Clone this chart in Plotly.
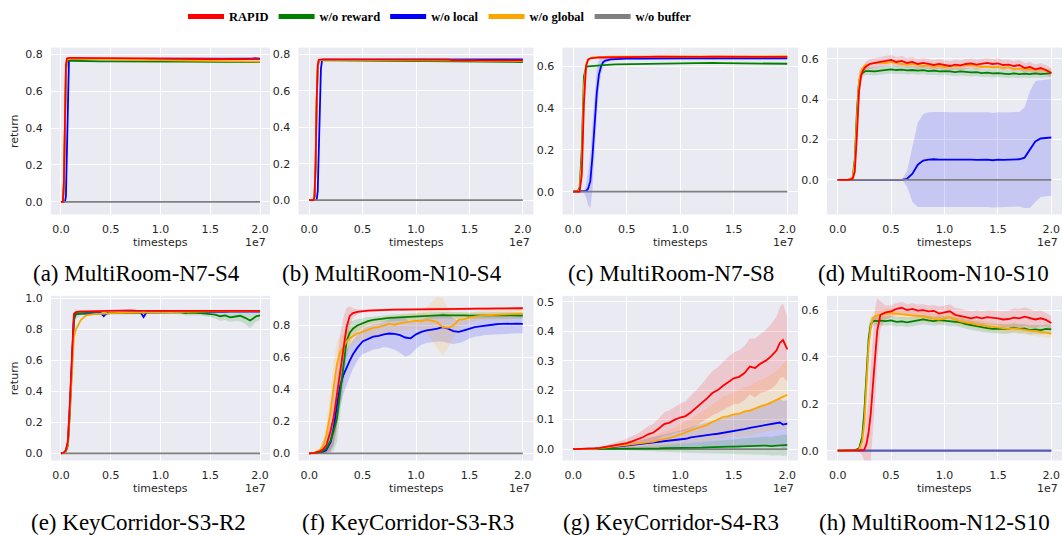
import plotly.graph_objects as go

W, H = 1063, 535

# ---------------- data (x in units of 1e6 timesteps) ----------------
ZERO_X = [0, 20]
ZERO_Y = [0.0, 0.0]

# (a) MultiRoom-N7-S4
X_A = [0, 0.2, 0.3, 0.4, 0.5, 0.6, 0.7, 0.8, 1, 1.5, 2, 3, 4, 5, 6, 7, 8, 9, 10, 11, 12, 13, 14, 15, 16, 17, 18, 19, 19.5, 20]
A_RAPID = [0, 0.0, 0.12, 0.48, 0.74, 0.778, 0.781, 0.781, 0.781, 0.781, 0.780, 0.780, 0.779, 0.779, 0.779, 0.778, 0.778, 0.778, 0.777, 0.777, 0.777, 0.776, 0.776, 0.776, 0.775, 0.775, 0.775, 0.774, 0.779, 0.775]
A_REWARD = [0, 0.0, 0.10, 0.42, 0.70, 0.765, 0.767, 0.766, 0.765, 0.764, 0.763, 0.762, 0.762, 0.762, 0.761, 0.761, 0.761, 0.760, 0.760, 0.760, 0.760, 0.760, 0.759, 0.759, 0.759, 0.759, 0.758, 0.758, 0.758, 0.758]
A_LOCAL = [0, 0, 0, 0.0, 0.03, 0.30, 0.65, 0.76, 0.772, 0.774, 0.775, 0.775, 0.775, 0.775, 0.775, 0.775, 0.775, 0.775, 0.775, 0.775, 0.775, 0.775, 0.776, 0.776, 0.776, 0.776, 0.776, 0.776, 0.775, 0.776]
A_GLOBAL = [0, 0.0, 0.11, 0.45, 0.72, 0.772, 0.776, 0.776, 0.776, 0.775, 0.775, 0.774, 0.774, 0.773, 0.772, 0.772, 0.771, 0.770, 0.770, 0.769, 0.768, 0.768, 0.767, 0.766, 0.766, 0.765, 0.764, 0.763, 0.762, 0.760]

# (b) MultiRoom-N10-S4
X_B = [0, 0.4, 0.5, 0.6, 0.7, 0.8, 0.9, 1.0, 1.1, 1.2, 1.3, 1.5, 2, 3, 4, 5, 6, 7, 8, 9, 10, 11, 12, 13, 13.5, 14, 15, 16, 17, 18, 19, 20]
B_RAPID = [0, 0, 0.02, 0.2, 0.55, 0.74, 0.77, 0.772, 0.772, 0.772, 0.772, 0.772, 0.772, 0.772, 0.771, 0.771, 0.771, 0.771, 0.771, 0.770, 0.770, 0.770, 0.770, 0.770, 0.767, 0.767, 0.767, 0.767, 0.767, 0.767, 0.766, 0.766]
B_REWARD = [0, 0, 0.02, 0.18, 0.52, 0.72, 0.765, 0.768, 0.768, 0.768, 0.767, 0.767, 0.766, 0.765, 0.765, 0.764, 0.764, 0.763, 0.763, 0.763, 0.762, 0.762, 0.762, 0.761, 0.761, 0.760, 0.760, 0.760, 0.759, 0.758, 0.758, 0.757]
B_LOCAL = [0, 0, 0, 0, 0.0, 0.05, 0.25, 0.55, 0.72, 0.765, 0.77, 0.771, 0.771, 0.771, 0.771, 0.771, 0.771, 0.771, 0.771, 0.771, 0.771, 0.771, 0.771, 0.771, 0.772, 0.773, 0.773, 0.773, 0.773, 0.772, 0.772, 0.772]
B_GLOBAL = [0, 0, 0.02, 0.19, 0.54, 0.73, 0.766, 0.769, 0.769, 0.769, 0.769, 0.768, 0.768, 0.768, 0.767, 0.767, 0.767, 0.766, 0.766, 0.766, 0.766, 0.766, 0.765, 0.765, 0.765, 0.765, 0.765, 0.764, 0.764, 0.764, 0.763, 0.763]

# (c) MultiRoom-N7-S8
X_C = [0, 0.4, 0.6, 0.8, 1.0, 1.2, 1.4, 1.6, 1.8, 2.0, 2.2, 2.4, 2.6, 2.8, 3.0, 3.5, 4, 5, 6, 7, 8, 9, 10, 11, 12, 13, 14, 15, 16, 17, 18, 19, 20]
C_RAPID = [0, 0, 0.0, 0.08, 0.42, 0.60, 0.632, 0.638, 0.640, 0.641, 0.641, 0.642, 0.642, 0.643, 0.643, 0.643, 0.644, 0.644, 0.645, 0.645, 0.646, 0.645, 0.646, 0.646, 0.645, 0.646, 0.645, 0.645, 0.646, 0.645, 0.645, 0.646, 0.645]
C_REWARD = [0, 0, 0.02, 0.20, 0.55, 0.597, 0.600, 0.601, 0.602, 0.603, 0.604, 0.605, 0.606, 0.606, 0.607, 0.608, 0.609, 0.610, 0.611, 0.612, 0.613, 0.614, 0.615, 0.616, 0.616, 0.616, 0.615, 0.615, 0.614, 0.614, 0.613, 0.613, 0.612]
C_LOCAL = [0, 0, 0, 0, 0.0, 0.003, 0.015, 0.05, 0.17, 0.31, 0.47, 0.56, 0.60, 0.62, 0.627, 0.633, 0.635, 0.637, 0.637, 0.638, 0.638, 0.638, 0.638, 0.638, 0.639, 0.638, 0.638, 0.638, 0.638, 0.637, 0.637, 0.638, 0.638]
C_GLOBAL = [0, 0, 0.01, 0.14, 0.50, 0.61, 0.634, 0.640, 0.642, 0.643, 0.644, 0.644, 0.645, 0.645, 0.645, 0.646, 0.646, 0.647, 0.647, 0.647, 0.647, 0.648, 0.648, 0.648, 0.648, 0.648, 0.648, 0.649, 0.648, 0.648, 0.648, 0.649, 0.648]
C_LOCAL_SD = [0, 0, 0, 0, 0.005, 0.03, 0.08, 0.13, 0.16, 0.15, 0.12, 0.07, 0.04, 0.02, 0.012, 0.008, 0.006, 0.005, 0.005, 0.005, 0.005, 0.005, 0.005, 0.005, 0.005, 0.005, 0.005, 0.005, 0.005, 0.005, 0.005, 0.005, 0.005]

# (d) MultiRoom-N10-S10
X_D = [0, 1.0, 1.4, 1.6, 1.8, 2.0, 2.2, 2.4, 2.6, 3.0, 3.5, 4, 4.5, 5, 5.5, 6, 6.5, 7, 7.5, 8, 8.5, 9, 9.5, 10, 10.5, 11, 11.5, 12, 12.5, 13, 13.5, 14, 14.5, 15, 15.5, 16, 16.5, 17, 17.5, 18, 18.5, 19, 19.5, 20]
D_RAPID = [0, 0, 0.005, 0.04, 0.22, 0.44, 0.52, 0.545, 0.56, 0.575,
           0.58, 0.585, 0.59, 0.595, 0.585, 0.59, 0.58, 0.585, 0.575, 0.58, 0.575, 0.57, 0.575, 0.57, 0.565, 0.572, 0.568,
           0.575, 0.578, 0.572, 0.575, 0.58, 0.575, 0.578, 0.57, 0.572, 0.565, 0.57, 0.555, 0.56, 0.548, 0.555, 0.545, 0.53]
D_REWARD = [0, 0, 0.01, 0.10, 0.34, 0.49, 0.525, 0.535, 0.54, 0.54,
            0.538, 0.542, 0.545, 0.548, 0.545, 0.547, 0.543, 0.545, 0.542, 0.544, 0.54, 0.542, 0.538, 0.54, 0.538, 0.535, 0.538,
            0.535, 0.533, 0.535, 0.53, 0.532, 0.528, 0.53, 0.528, 0.525, 0.528, 0.525, 0.527, 0.525, 0.528, 0.525, 0.527, 0.53]
D_LOCAL = [0, 0, 0, 0, 0, 0, 0, 0, 0, 0,
           0, 0, 0, 0, 0, 0, 0.005, 0.03, 0.075, 0.095, 0.1, 0.102, 0.1, 0.101, 0.1, 0.1, 0.1,
           0.101, 0.1, 0.099, 0.1, 0.1, 0.097, 0.1, 0.099, 0.1, 0.101, 0.102, 0.11, 0.15, 0.19, 0.205, 0.208, 0.21]
D_GLOBAL = [0, 0, 0.01, 0.08, 0.30, 0.49, 0.54, 0.56, 0.57, 0.575,
            0.58, 0.582, 0.58, 0.585, 0.578, 0.575, 0.572, 0.575, 0.57, 0.565, 0.568, 0.562, 0.565, 0.56, 0.565, 0.562, 0.566,
            0.568, 0.57, 0.565, 0.56, 0.562, 0.558, 0.56, 0.555, 0.558, 0.55, 0.552, 0.548, 0.55, 0.545, 0.548, 0.54, 0.535]
D_LOCAL_SD = [0, 0, 0, 0, 0, 0, 0, 0, 0, 0,
              0, 0, 0, 0, 0, 0, 0.04, 0.14, 0.21, 0.23, 0.235, 0.235, 0.235, 0.235, 0.235, 0.235, 0.235,
              0.235, 0.235, 0.235, 0.235, 0.235, 0.235, 0.235, 0.235, 0.235, 0.235, 0.235, 0.25, 0.29, 0.3, 0.29, 0.29, 0.29]
D_RAPID_SD = [0, 0, 0.005, 0.03, 0.08, 0.06, 0.03, 0.025, 0.025, 0.025,
              0.025, 0.025, 0.025, 0.025, 0.025, 0.025, 0.025, 0.025, 0.025, 0.025, 0.025, 0.025, 0.025, 0.025, 0.025, 0.025, 0.025,
              0.025, 0.025, 0.025, 0.025, 0.025, 0.025, 0.025, 0.025, 0.025, 0.025, 0.025, 0.025, 0.025, 0.025, 0.025, 0.025, 0.025]
D_REWARD_SD = [0, 0, 0.005, 0.03, 0.07, 0.05, 0.03, 0.02, 0.02, 0.02,
               0.02, 0.02, 0.02, 0.02, 0.02, 0.02, 0.02, 0.02, 0.02, 0.02, 0.02, 0.02, 0.02, 0.02, 0.02, 0.02, 0.02,
               0.02, 0.02, 0.02, 0.02, 0.02, 0.02, 0.02, 0.02, 0.02, 0.02, 0.02, 0.02, 0.02, 0.02, 0.02, 0.02, 0.02]

# (e) KeyCorridor-S3-R2
X_E = [0, 0.3, 0.5, 0.7, 0.9, 1.0, 1.1, 1.2, 1.3, 1.5, 1.8, 2.0, 2.5, 3, 3.5, 4, 4.3, 4.5, 4.7, 5, 6, 7, 7.5, 8, 8.3, 8.6, 9, 10, 11, 12, 12.5, 13, 14, 15, 15.5, 16, 16.5, 17, 17.5, 18, 18.5, 19, 19.3, 19.6, 20]
E_RAPID = [0, 0.005, 0.02, 0.08, 0.33, 0.50, 0.66, 0.82, 0.90, 0.912, 0.915, 0.916, 0.917, 0.918, 0.918,
           0.919, 0.919, 0.919, 0.919, 0.92, 0.921, 0.923, 0.921, 0.92, 0.92, 0.92, 0.92, 0.92, 0.92, 0.92,
           0.92, 0.921, 0.92, 0.921, 0.92, 0.921, 0.92, 0.921, 0.92, 0.921, 0.92, 0.92, 0.921, 0.92, 0.92]
E_REWARD = [0, 0.003, 0.012, 0.05, 0.26, 0.42, 0.58, 0.75, 0.86, 0.90, 0.902, 0.904, 0.90, 0.90, 0.902,
            0.903, 0.90, 0.902, 0.903, 0.905, 0.907, 0.91, 0.91, 0.91, 0.91, 0.91, 0.91, 0.91, 0.912, 0.91,
            0.905, 0.908, 0.905, 0.90, 0.895, 0.885, 0.89, 0.878, 0.885, 0.888, 0.875, 0.858, 0.87, 0.885, 0.89]
E_LOCAL = [0, 0.004, 0.018, 0.07, 0.31, 0.48, 0.64, 0.80, 0.88, 0.90, 0.902, 0.903, 0.905, 0.905, 0.905,
           0.905, 0.885, 0.90, 0.905, 0.907, 0.908, 0.91, 0.91, 0.91, 0.88, 0.91, 0.91, 0.91, 0.91, 0.91,
           0.91, 0.91, 0.91, 0.912, 0.913, 0.914, 0.914, 0.915, 0.915, 0.915, 0.915, 0.915, 0.915, 0.915, 0.915]
E_GLOBAL = [0, 0.003, 0.015, 0.06, 0.28, 0.42, 0.55, 0.66, 0.75, 0.80, 0.84, 0.86, 0.89, 0.895, 0.90,
            0.90, 0.90, 0.902, 0.903, 0.905, 0.907, 0.908, 0.91, 0.91, 0.91, 0.91, 0.91, 0.912, 0.912, 0.912,
            0.913, 0.914, 0.915, 0.915, 0.916, 0.917, 0.918, 0.918, 0.918, 0.919, 0.92, 0.92, 0.92, 0.92, 0.92]
E_REWARD_SD = [0, 0, 0.005, 0.02, 0.06, 0.07, 0.07, 0.06, 0.05, 0.03, 0.02, 0.015, 0.01, 0.01, 0.01,
               0.01, 0.01, 0.01, 0.01, 0.01, 0.01, 0.01, 0.01, 0.01, 0.01, 0.01, 0.01, 0.01, 0.01, 0.012,
               0.015, 0.015, 0.015, 0.02, 0.025, 0.03, 0.03, 0.03, 0.03, 0.035, 0.04, 0.05, 0.04, 0.035, 0.03]

# (f) KeyCorridor-S3-R3
X_F = [0, 0.5, 1.0, 1.3, 1.6, 2.0, 2.3, 2.6, 2.9, 3.2, 3.5, 3.8, 4.1, 4.5,
       5, 5.5, 6, 6.5, 7, 7.5, 8, 8.5, 9, 9.5, 10, 10.5, 11, 11.5, 12, 12.5, 13, 13.5, 14, 14.5, 15, 15.5, 16, 16.5, 17, 17.5, 18, 18.5, 19, 19.5, 20]
F_RAPID = [0, 0.003, 0.012, 0.025, 0.05, 0.14, 0.23, 0.37, 0.52, 0.67, 0.79, 0.86, 0.878, 0.885,
           0.89, 0.893, 0.895, 0.897, 0.898, 0.899, 0.9, 0.9, 0.901, 0.901, 0.902, 0.902, 0.902, 0.903, 0.903, 0.903,
           0.904, 0.904, 0.904, 0.905, 0.905, 0.905, 0.906, 0.906, 0.906, 0.907, 0.907, 0.907, 0.908, 0.908, 0.908]
F_REWARD = [0, 0.002, 0.008, 0.015, 0.03, 0.08, 0.14, 0.22, 0.38, 0.56, 0.70, 0.755, 0.78, 0.80,
            0.815, 0.828, 0.835, 0.84, 0.845, 0.848, 0.85, 0.852, 0.853, 0.855, 0.857, 0.858, 0.86, 0.862, 0.864, 0.865,
            0.864, 0.865, 0.864, 0.863, 0.862, 0.863, 0.864, 0.865, 0.866, 0.866, 0.866, 0.865, 0.864, 0.862, 0.862]
F_LOCAL = [0, 0.002, 0.006, 0.01, 0.02, 0.07, 0.16, 0.30, 0.42, 0.49, 0.54, 0.58, 0.62, 0.66,
           0.70, 0.715, 0.73, 0.735, 0.745, 0.75, 0.748, 0.74, 0.725, 0.72, 0.745, 0.76, 0.77, 0.775, 0.78, 0.79,
           0.78, 0.765, 0.76, 0.77, 0.78, 0.79, 0.795, 0.80, 0.805, 0.808, 0.81, 0.812, 0.81, 0.812, 0.81]
F_GLOBAL = [0, 0.005, 0.02, 0.05, 0.11, 0.26, 0.42, 0.56, 0.63, 0.67, 0.70, 0.72, 0.735, 0.75,
            0.76, 0.775, 0.785, 0.79, 0.80, 0.81, 0.805, 0.815, 0.82, 0.825, 0.83, 0.828, 0.835, 0.83, 0.82, 0.79,
            0.785, 0.80, 0.835, 0.84, 0.85, 0.855, 0.862, 0.865, 0.866, 0.868, 0.87, 0.87, 0.872, 0.874, 0.875]
F_RAPID_SD = [0, 0.003, 0.01, 0.02, 0.05, 0.12, 0.18, 0.22, 0.22, 0.18, 0.12, 0.06, 0.03, 0.015,
              0.008, 0.008, 0.008, 0.008, 0.008, 0.008, 0.008, 0.008, 0.008, 0.008, 0.008, 0.008, 0.008, 0.008, 0.008, 0.008,
              0.008, 0.008, 0.008, 0.008, 0.008, 0.008, 0.008, 0.008, 0.008, 0.008, 0.008, 0.008, 0.008, 0.008, 0.008]
F_REWARD_SD = [0, 0.002, 0.008, 0.015, 0.03, 0.08, 0.12, 0.15, 0.17, 0.15, 0.11, 0.07, 0.05, 0.04,
               0.03, 0.025, 0.02, 0.02, 0.02, 0.02, 0.02, 0.02, 0.02, 0.02, 0.02, 0.02, 0.02, 0.02, 0.02, 0.02,
               0.02, 0.02, 0.02, 0.02, 0.02, 0.02, 0.02, 0.02, 0.02, 0.02, 0.02, 0.02, 0.02, 0.02, 0.02]
F_LOCAL_SD = [0, 0.002, 0.006, 0.01, 0.02, 0.06, 0.10, 0.12, 0.12, 0.12, 0.11, 0.10, 0.09, 0.08,
              0.08, 0.08, 0.08, 0.08, 0.08, 0.09, 0.10, 0.11, 0.12, 0.10, 0.09, 0.08, 0.08, 0.08, 0.08, 0.09,
              0.09, 0.08, 0.07, 0.07, 0.06, 0.06, 0.06, 0.06, 0.06, 0.06, 0.06, 0.06, 0.06, 0.06, 0.06]
F_GLOBAL_SD = [0, 0.004, 0.015, 0.04, 0.08, 0.12, 0.15, 0.14, 0.10, 0.08, 0.07, 0.06, 0.06, 0.05,
               0.05, 0.05, 0.05, 0.05, 0.05, 0.05, 0.05, 0.05, 0.05, 0.05, 0.05, 0.06, 0.08, 0.12, 0.16, 0.18,
               0.12, 0.08, 0.05, 0.04, 0.03, 0.03, 0.03, 0.03, 0.03, 0.03, 0.03, 0.03, 0.03, 0.03, 0.03]

# (g) KeyCorridor-S4-R3
X_G = [0, 1, 2, 2.5, 3, 3.5, 4, 4.5, 5, 5.5, 6, 6.5, 7, 7.5, 8, 8.5, 9, 9.5, 10, 10.5, 11, 11.5, 12, 12.5, 13, 13.5, 14, 14.5, 15, 15.5, 16, 16.5, 17, 17.5, 18, 18.5, 19, 19.3, 19.6, 20]
G_RAPID = [0, 0, 0.002, 0.004, 0.007, 0.01, 0.013, 0.017, 0.02, 0.026, 0.032, 0.04, 0.05, 0.056, 0.07, 0.085, 0.09, 0.1, 0.107, 0.112,
           0.125, 0.14, 0.155, 0.172, 0.19, 0.2, 0.215, 0.228, 0.24, 0.245, 0.258, 0.28, 0.275, 0.29, 0.3, 0.315, 0.335, 0.36, 0.37, 0.338]
G_REWARD = [0, 0, 0, 0, 0, 0, 0, 0.001, 0.001, 0.001, 0.001, 0.002, 0.002, 0.002, 0.002, 0.003, 0.003, 0.003, 0.004, 0.004,
            0.004, 0.005, 0.005, 0.006, 0.007, 0.006, 0.007, 0.008, 0.008, 0.009, 0.01, 0.009, 0.01, 0.011, 0.012, 0.01, 0.012, 0.013, 0.012, 0.014]
G_LOCAL = [0, 0, 0.001, 0.002, 0.004, 0.006, 0.008, 0.01, 0.012, 0.014, 0.016, 0.018, 0.02, 0.022, 0.024, 0.027, 0.028, 0.03, 0.032, 0.035,
           0.04, 0.043, 0.045, 0.047, 0.05, 0.052, 0.055, 0.057, 0.06, 0.063, 0.068, 0.072, 0.075, 0.08, 0.083, 0.085, 0.088, 0.09, 0.083, 0.086]
G_GLOBAL = [0, 0, 0.001, 0.003, 0.005, 0.007, 0.009, 0.011, 0.013, 0.015, 0.017, 0.019, 0.021, 0.025, 0.03, 0.033, 0.038, 0.043, 0.05, 0.056,
            0.062, 0.07, 0.075, 0.082, 0.092, 0.1, 0.108, 0.112, 0.118, 0.12, 0.128, 0.13, 0.138, 0.145, 0.15, 0.158, 0.165, 0.172, 0.178, 0.184]
G_RAPID_SD = [0, 0, 0.002, 0.003, 0.005, 0.007, 0.01, 0.012, 0.015, 0.018, 0.02, 0.024, 0.028, 0.03, 0.035, 0.04, 0.042, 0.045, 0.048, 0.05,
              0.055, 0.06, 0.065, 0.07, 0.075, 0.078, 0.082, 0.085, 0.088, 0.09, 0.092, 0.095, 0.1, 0.1, 0.105, 0.11, 0.115, 0.12, 0.125, 0.11]
G_REWARD_SD = [0, 0, 0, 0, 0.001, 0.002, 0.003, 0.004, 0.005, 0.006, 0.007, 0.008, 0.009, 0.01, 0.011, 0.012, 0.013, 0.014, 0.015, 0.016,
               0.017, 0.018, 0.019, 0.02, 0.021, 0.022, 0.023, 0.024, 0.025, 0.026, 0.027, 0.028, 0.029, 0.03, 0.031, 0.032, 0.033, 0.034, 0.035, 0.036]
G_LOCAL_SD = [0, 0, 0.001, 0.002, 0.003, 0.004, 0.005, 0.006, 0.008, 0.01, 0.012, 0.014, 0.016, 0.018, 0.02, 0.022, 0.025, 0.028, 0.03, 0.032,
              0.035, 0.038, 0.04, 0.042, 0.045, 0.048, 0.05, 0.052, 0.055, 0.058, 0.06, 0.063, 0.066, 0.07, 0.072, 0.075, 0.078, 0.08, 0.08, 0.08]
G_GLOBAL_SD = [0, 0, 0.001, 0.002, 0.003, 0.005, 0.006, 0.008, 0.01, 0.012, 0.014, 0.016, 0.018, 0.02, 0.022, 0.025, 0.028, 0.03, 0.033, 0.036,
               0.04, 0.045, 0.05, 0.055, 0.06, 0.065, 0.07, 0.072, 0.075, 0.08, 0.082, 0.085, 0.088, 0.09, 0.092, 0.095, 0.1, 0.105, 0.11, 0.12]

# (h) MultiRoom-N12-S10
X_H = [0, 1.5, 2.0, 2.3, 2.5, 2.7, 2.9, 3.1, 3.3, 3.5, 3.7, 4.0,
       4.5, 5, 5.5, 6, 6.5, 7, 7.5, 8, 8.5, 9, 9.5, 10, 10.5, 11, 11.5, 12, 12.5, 13, 13.5, 14, 14.5, 15, 15.5, 16, 16.5, 17, 17.5, 18, 18.5, 19, 19.5, 20]
H_RAPID = [0, 0, 0, 0.002, 0.005, 0.03, 0.08, 0.16, 0.28, 0.41, 0.51, 0.58,
           0.59, 0.595, 0.605, 0.61, 0.6, 0.605, 0.598, 0.6, 0.595, 0.597, 0.585, 0.59, 0.595, 0.58, 0.575, 0.57,
           0.565, 0.57, 0.565, 0.57, 0.568, 0.565, 0.56, 0.562, 0.568, 0.565, 0.572, 0.565, 0.56, 0.565, 0.558, 0.545]
H_REWARD = [0, 0, 0.01, 0.06, 0.17, 0.33, 0.48, 0.54, 0.552, 0.555, 0.553, 0.555,
            0.553, 0.556, 0.55, 0.552, 0.548, 0.552, 0.555, 0.56, 0.556, 0.553, 0.557, 0.555, 0.552, 0.553, 0.548, 0.54,
            0.535, 0.53, 0.527, 0.523, 0.52, 0.52, 0.518, 0.52, 0.525, 0.52, 0.522, 0.515, 0.518, 0.515, 0.52, 0.518]
H_GLOBAL = [0, 0, 0.005, 0.04, 0.12, 0.28, 0.45, 0.53, 0.565, 0.575, 0.578, 0.58,
            0.585, 0.587, 0.585, 0.583, 0.58, 0.578, 0.575, 0.572, 0.568, 0.565, 0.56, 0.565, 0.57, 0.56, 0.552, 0.548,
            0.545, 0.538, 0.535, 0.53, 0.528, 0.525, 0.522, 0.52, 0.522, 0.518, 0.515, 0.512, 0.51, 0.506, 0.503, 0.5]
H_RAPID_SD = [0, 0, 0.005, 0.02, 0.05, 0.10, 0.15, 0.20, 0.22, 0.20, 0.14, 0.06,
              0.03, 0.025, 0.025, 0.025, 0.025, 0.025, 0.025, 0.025, 0.025, 0.025, 0.03, 0.03, 0.03, 0.03, 0.03, 0.03,
              0.03, 0.03, 0.03, 0.03, 0.03, 0.03, 0.035, 0.035, 0.04, 0.04, 0.04, 0.04, 0.035, 0.035, 0.03, 0.03]
H_REWARD_SD = [0, 0, 0.005, 0.03, 0.06, 0.07, 0.05, 0.03, 0.02, 0.02, 0.02, 0.02,
               0.02, 0.02, 0.02, 0.02, 0.02, 0.02, 0.02, 0.02, 0.02, 0.02, 0.02, 0.02, 0.02, 0.02, 0.02, 0.02,
               0.02, 0.02, 0.02, 0.02, 0.02, 0.02, 0.02, 0.02, 0.02, 0.02, 0.02, 0.02, 0.02, 0.02, 0.02, 0.02]
H_GLOBAL_SD = [0, 0, 0.005, 0.03, 0.06, 0.07, 0.05, 0.03, 0.02, 0.02, 0.02, 0.02,
               0.02, 0.02, 0.02, 0.02, 0.02, 0.02, 0.02, 0.02, 0.02, 0.02, 0.02, 0.02, 0.02, 0.02, 0.02, 0.02,
               0.02, 0.02, 0.02, 0.02, 0.02, 0.02, 0.02, 0.02, 0.02, 0.02, 0.02, 0.02, 0.02, 0.02, 0.02, 0.02]

X_TICKS = [0, 5, 10, 15, 20]
X_TICKTEXT = ["0.0", "0.5", "1.0", "1.5", "2.0"]
NAMES = ["RAPID", "w/o reward", "w/o local", "w/o global", "w/o buffer"]

# ---------------- styling ----------------
COLORS = {"RAPID": (255, 0, 0), "w/o reward": (0, 128, 0), "w/o local": (0, 0, 255),
          "w/o global": (255, 165, 0), "w/o buffer": (128, 128, 128)}

def rgb(name, a=1.0):
    r, g, b = COLORS[name]
    return f"rgba({r},{g},{b},{a})"

def S(name, x, y, sd=None, op=1.0):
    return dict(name=name, x=x, y=y, sd=sd, op=op)

PANELS = [
    dict(cap="(a) MultiRoom-N7-S4", capx=136, box=(51, 270, 44, 212), yr=(-0.068, 0.836), yt=[0, 0.2, 0.4, 0.6, 0.8], ylab=True,
         series=[S("w/o local", X_A, A_LOCAL), S("w/o buffer", ZERO_X, ZERO_Y), S("w/o reward", X_A, A_REWARD),
                 S("w/o global", X_A, A_GLOBAL), S("RAPID", X_A, A_RAPID)]),
    dict(cap="(b) MultiRoom-N10-S4", capx=392, box=(298.5, 533.5, 44, 212), yr=(-0.078, 0.836), yt=[0, 0.2, 0.4, 0.6, 0.8], ylab=False,
         series=[S("w/o local", X_B, B_LOCAL), S("w/o buffer", ZERO_X, ZERO_Y), S("w/o reward", X_B, B_REWARD),
                 S("w/o global", X_B, B_GLOBAL), S("RAPID", X_B, B_RAPID)]),
    dict(cap="(c) MultiRoom-N7-S8", capx=671, box=(562.5, 798, 44, 212), yr=(-0.109, 0.689), yt=[0, 0.2, 0.4, 0.6], ylab=False,
         series=[S("w/o local", X_C, C_LOCAL, C_LOCAL_SD), S("w/o buffer", ZERO_X, ZERO_Y), S("w/o reward", X_C, C_REWARD),
                 S("w/o global", X_C, C_GLOBAL), S("RAPID", X_C, C_RAPID)]),
    dict(cap="(d) MultiRoom-N10-S10", capx=933, box=(827, 1062, 44, 212), yr=(-0.172, 0.656), yt=[0, 0.2, 0.4, 0.6], ylab=False,
         series=[S("w/o local", X_D, D_LOCAL, D_LOCAL_SD), S("w/o buffer", ZERO_X, ZERO_Y), S("w/o reward", X_D, D_REWARD, D_REWARD_SD),
                 S("w/o global", X_D, D_GLOBAL), S("RAPID", X_D, D_RAPID, D_RAPID_SD)]),
    dict(cap="(e) KeyCorridor-S3-R2", capx=138, box=(51, 270, 294, 460), yr=(-0.047, 1.017), yt=[0, 0.2, 0.4, 0.6, 0.8, 1.0], ylab=True,
         series=[S("w/o local", X_E, E_LOCAL), S("w/o buffer", ZERO_X, ZERO_Y), S("w/o reward", X_E, E_REWARD, E_REWARD_SD),
                 S("w/o global", X_E, E_GLOBAL), S("RAPID", X_E, E_RAPID)]),
    dict(cap="(f) KeyCorridor-S3-R3", capx=408, box=(298.5, 533.5, 294, 460), yr=(-0.045, 0.986), yt=[0, 0.2, 0.4, 0.6, 0.8], ylab=False,
         series=[S("w/o local", X_F, F_LOCAL, F_LOCAL_SD), S("w/o buffer", ZERO_X, ZERO_Y), S("w/o reward", X_F, F_REWARD, F_REWARD_SD),
                 S("w/o global", X_F, F_GLOBAL, F_GLOBAL_SD), S("RAPID", X_F, F_RAPID, F_RAPID_SD)]),
    dict(cap="(g) KeyCorridor-S4-R3", capx=671, box=(562.5, 798, 294, 460), yr=(-0.039, 0.520), yt=[0, 0.1, 0.2, 0.3, 0.4, 0.5], ylab=False,
         series=[S("w/o local", X_G, G_LOCAL, G_LOCAL_SD), S("w/o buffer", ZERO_X, ZERO_Y), S("w/o reward", X_G, G_REWARD, G_REWARD_SD),
                 S("w/o global", X_G, G_GLOBAL, G_GLOBAL_SD), S("RAPID", X_G, G_RAPID, G_RAPID_SD)]),
    dict(cap="(h) MultiRoom-N12-S10", capx=934, box=(827, 1062, 294, 460), yr=(-0.042, 0.661), yt=[0, 0.2, 0.4, 0.6], ylab=False,
         series=[S("w/o local", ZERO_X, ZERO_Y), S("w/o buffer", ZERO_X, ZERO_Y, op=0.7), S("w/o reward", X_H, H_REWARD, H_REWARD_SD),
                 S("w/o global", X_H, H_GLOBAL, H_GLOBAL_SD), S("RAPID", X_H, H_RAPID, H_RAPID_SD)]),
]

for p in PANELS:
    for s in p["series"]:
        assert len(s["x"]) == len(s["y"]), (p["cap"], s["name"], len(s["x"]), len(s["y"]))
        if s["sd"] is not None:
            assert len(s["sd"]) == len(s["y"]), (p["cap"], s["name"], "sd")

TICKFONT = dict(family="DejaVu Sans", size=11, color="#262626")
LABELFONT = dict(family="DejaVu Sans", size=11, color="#262626")
CAPFONT = dict(family="Liberation Serif", size=23, color="black")

fig = go.Figure()
annotations = []

for i, p in enumerate(PANELS):
    k = "" if i == 0 else str(i + 1)
    xa, ya = "x" + k, "y" + k
    x0, x1, y0, y1 = p["box"]
    fig.update_layout(**{
        f"xaxis{k}": dict(domain=[x0 / W, x1 / W], anchor=ya, range=[-1, 21], tickvals=X_TICKS, ticktext=X_TICKTEXT,
                          showgrid=True, gridcolor="white", gridwidth=1.2, zeroline=False, showline=False,
                          ticks="outside", ticklen=4, tickcolor="rgba(0,0,0,0)", tickfont=TICKFONT, fixedrange=True),
        f"yaxis{k}": dict(domain=[1 - y1 / H, 1 - y0 / H], anchor=xa, range=list(p["yr"]), tickvals=p["yt"],
                          ticktext=[f"{v:.1f}" for v in p["yt"]],
                          showgrid=True, gridcolor="white", gridwidth=1.2, zeroline=False, showline=False,
                          ticks="outside", ticklen=5, tickcolor="rgba(0,0,0,0)", tickfont=TICKFONT, fixedrange=True),
    })
    for s in p["series"]:
        if s["sd"] is None:
            continue
        up = [y + d for y, d in zip(s["y"], s["sd"])]
        lo = [y - d for y, d in zip(s["y"], s["sd"])]
        fig.add_trace(go.Scatter(x=list(s["x"]) + list(s["x"])[::-1], y=up + lo[::-1], fill="toself",
                                 fillcolor=rgb(s["name"], 0.15), line=dict(width=0), mode="lines",
                                 hoverinfo="skip", showlegend=False, xaxis=xa, yaxis=ya))
    for s in p["series"]:
        fig.add_trace(go.Scatter(x=s["x"], y=s["y"], mode="lines", line=dict(color=rgb(s["name"]), width=1.8),
                                 opacity=s["op"], showlegend=False, xaxis=xa, yaxis=ya, name=s["name"]))
    cx = (x0 + x1) / 2
    row_y = 240 if y0 < 100 else 488
    annotations.append(dict(text="timesteps", x=cx / W, y=1 - row_y / H, xref="paper", yref="paper",
                            showarrow=False, font=LABELFONT, xanchor="center", yanchor="middle"))
    annotations.append(dict(text="1e7", x=(x1 - 2) / W, y=1 - row_y / H, xref="paper", yref="paper",
                            showarrow=False, font=LABELFONT, xanchor="right", yanchor="middle"))
    if p["ylab"]:
        annotations.append(dict(text="return", x=14 / W, y=1 - ((y0 + y1) / 2) / H, xref="paper", yref="paper",
                                showarrow=False, font=LABELFONT, textangle=-90, xanchor="center", yanchor="middle"))
    cap_y = 272 if y0 < 100 else 522
    annotations.append(dict(text=p["cap"], x=p["capx"] / W, y=1 - cap_y / H, xref="paper", yref="paper",
                            showarrow=False, font=CAPFONT, xanchor="center", yanchor="middle"))

for n in NAMES:
    fig.add_trace(go.Scatter(x=[None], y=[None], mode="lines", line=dict(color=rgb(n), width=5), name=n, showlegend=True))

fig.update_layout(
    width=W, height=H, autosize=False,
    margin=dict(l=0, r=0, t=0, b=0),
    paper_bgcolor="white", plot_bgcolor="#EAEAF2",
    annotations=annotations,
    showlegend=True,
    legend=dict(orientation="h", x=183 / W, xanchor="left", y=1 - 13 / H, yanchor="middle",
                bgcolor="rgba(0,0,0,0)", itemwidth=36,
                font=dict(family="Liberation Serif", size=12.5, color="black", weight="bold")),
)

fig.write_html("out.html", config={"displayModeBar": False},
               post_script="document.body.style.margin='0';document.body.style.overflow='hidden';")
